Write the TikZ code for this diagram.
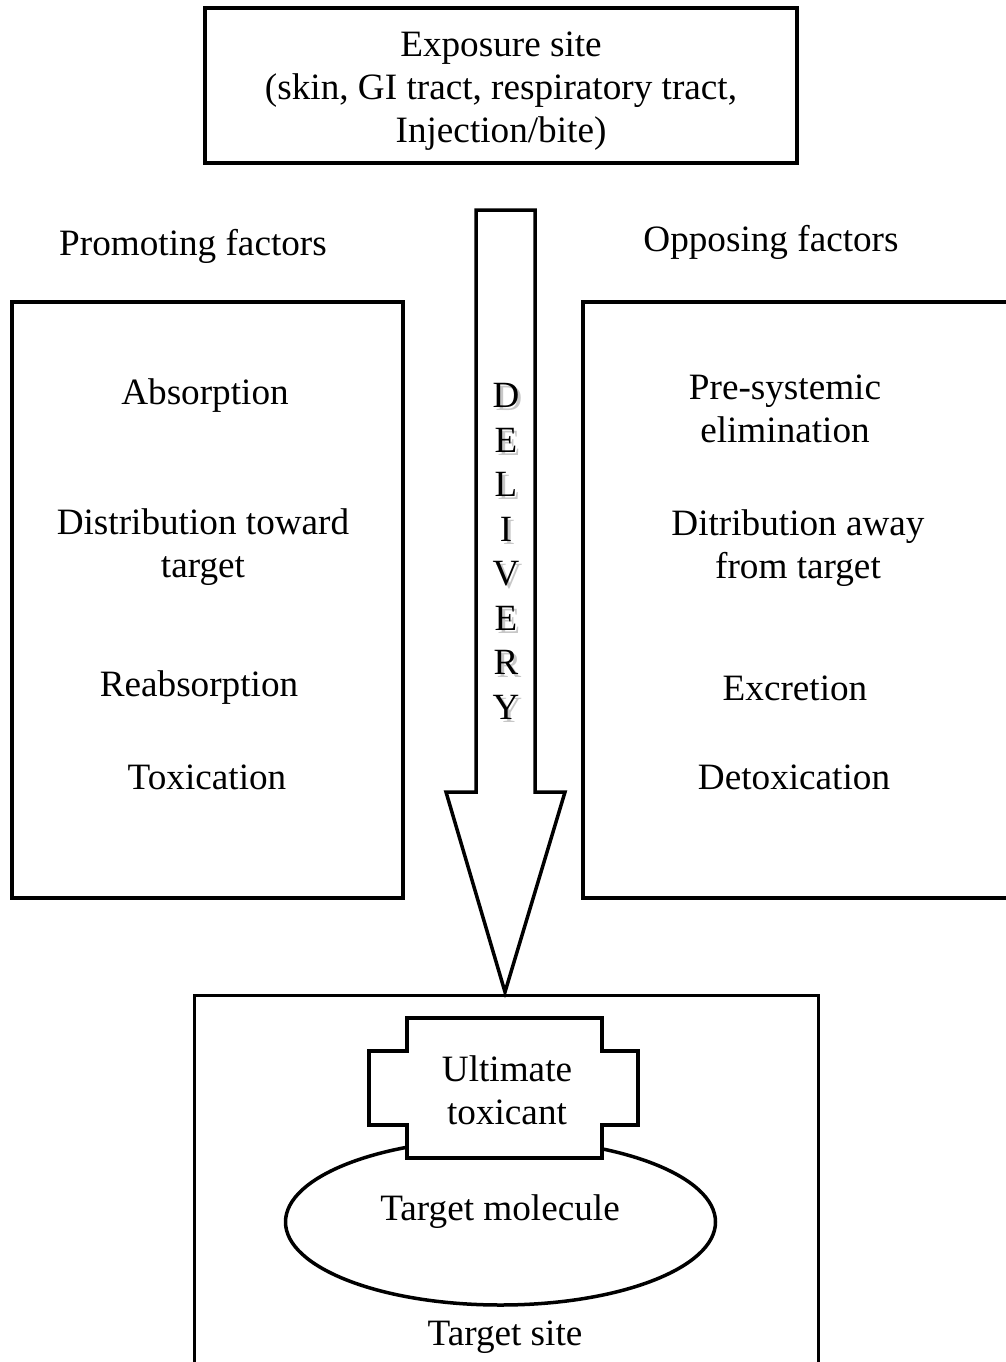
\documentclass[tikz,border=0pt]{standalone}
\usepackage{fontspec}
\setmainfont{Liberation Serif}
\usetikzlibrary{shapes.geometric}
\newcommand\shadowedletter[1]{\makebox[0pt][l]{\hspace{3pt}\raisebox{-3pt}{\textcolor{black!22}{#1}}}#1}
\begin{document}
\begin{tikzpicture}[x=1pt,y=-1pt,
  box/.style={draw,line width=3.5pt,rectangle,inner sep=0pt},
  txt/.style={align=center,inner sep=0pt,font=\fontsize{37.2}{43}\selectfont},
  letter/.style={inner sep=0pt,font=\fontsize{37}{40}\selectfont}]
\useasboundingbox (0,0) rectangle (1005,1362);
% exposure box
\node[box,minimum width=592pt,minimum height=155pt] (expo) at (501,85.5) {};
\node[txt] (expot) at (501,91) {Exposure site\\(skin, GI tract, respiratory tract,\\Injection/bite)};
% headings
\node[txt] (prom) at (193,246) {Promoting factors};
\node[txt] (opp) at (771,242) {Opposing factors};
% side boxes
\node[box,minimum width=391pt,minimum height=596pt] (left) at (207.5,600) {};
\node[box,minimum width=432pt,minimum height=596pt] (right) at (799,600) {};
% left texts
\node[txt] (abs) at (205,396) {Absorption};
\node[txt] (dist) at (203,547) {Distribution toward\\target};
\node[txt] (reab) at (199,688) {Reabsorption};
\node[txt] (toxi) at (207,777) {Toxication};
% right texts
\node[txt] (pre) at (785,409) {Pre-systemic\\elimination};
\node[txt] (ditr) at (798,548) {Ditribution away\\from target};
\node[txt] (excr) at (795,688) {Excretion};
\node[txt] (detox) at (794,777) {Detoxication};
% delivery arrow
\draw[line width=3.5pt,line join=miter] (476,210) -- (535,210) -- (535,792) -- (565,792) -- (505,992) -- (446,792) -- (476,792) -- cycle;
\foreach \l [count=\i] in {D,E,L,I,V,E,R,Y}{
  \node[letter] (del\i) at (506,352.5+\i*44.5) {\shadowedletter{\l}};
}
% target site
\node[box,line width=3pt,minimum width=624pt,minimum height=405pt] (site) at (506,1197.5) {};
\node[draw,line width=3.5pt,ellipse,minimum width=430pt,minimum height=166pt,inner sep=0pt] (mol) at (500.5,1222) {};
\draw[line width=3.5pt,fill=white] (407,1018) -- (602,1018) -- (602,1051) -- (638,1051) -- (638,1125) -- (602,1125) -- (602,1158) -- (407,1158) -- (407,1125) -- (369,1125) -- (369,1051) -- (407,1051) -- cycle;
\node[txt] (ult) at (507,1090) {Ultimate\\toxicant};
\node[txt] (molt) at (500,1212) {Target molecule};
\node[txt] (sitet) at (505,1337) {Target site};
\end{tikzpicture}
\end{document}
